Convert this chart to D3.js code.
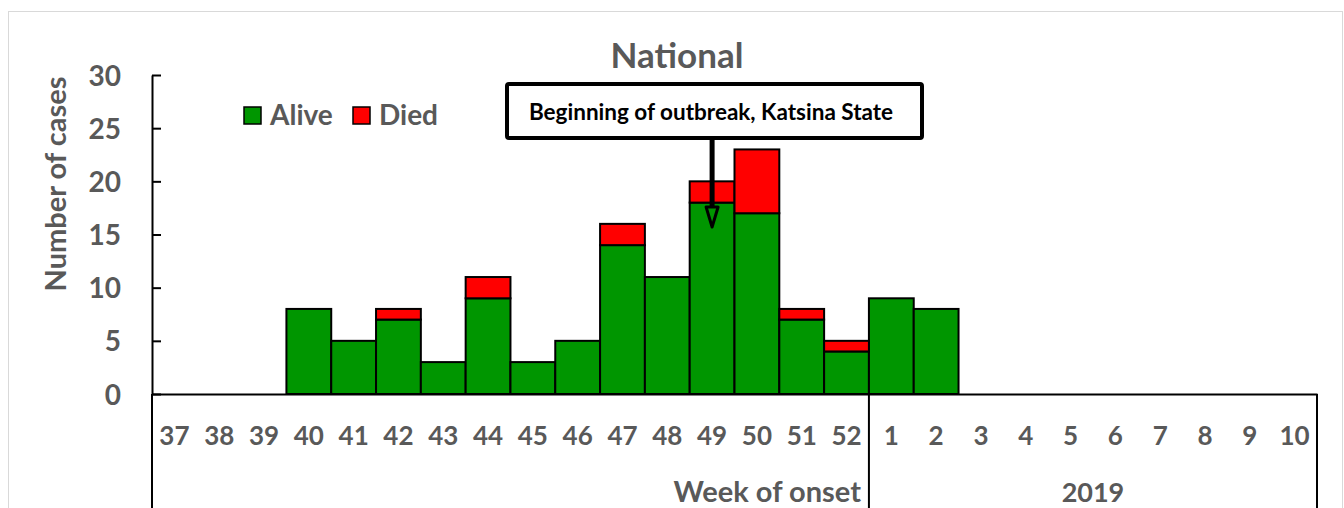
<!DOCTYPE html>
<html><head><meta charset="utf-8">
<script src="https://cdn.jsdelivr.net/npm/d3@7"></script>
<style>body{margin:0;background:#fff}svg{display:block}text{font-family:Lato,"Open Sans",sans-serif;font-weight:bold}</style>
</head><body>
<svg id="c" width="1344" height="508"></svg>
<script>
const weeks = ["37","38","39","40","41","42","43","44","45","46","47","48","49","50","51","52","1","2","3","4","5","6","7","8","9","10"];
const alive = [0,0,0,8,5,7,3,9,3,5,14,11,18,17,7,4,9,8,0,0,0,0,0,0,0,0];
const died  = [0,0,0,0,0,1,0,2,0,0,2,0,2,6,1,1,0,0,0,0,0,0,0,0,0,0];
const yTicks = [0,5,10,15,20,25,30];
const seriesNames = ["Alive","Died"];
const colors = ["#009600","#ff0000"];
const title = "National";
const annotation = "Beginning of outbreak, Katsina State";
const annotWeek = "49";

const svg = d3.select("#c");
const grey = "#595959";
svg.append("rect").attr("x",8.5).attr("y",11.5).attr("width",1334).attr("height",510)
  .attr("fill","#fff").attr("stroke","#d9d9d9").attr("stroke-width",1);

const x = d3.scaleBand().domain(weeks).range([152,1317]).padding(0);
const y = d3.scaleLinear().domain([0,30]).range([394,75]);

const data = weeks.map((w,i)=>({week:w, Alive:alive[i], Died:died[i]}));
const stack = d3.stack().keys(seriesNames)(data);

svg.append("g").selectAll("g").data(stack).join("g")
  .attr("fill",(d,i)=>colors[i])
  .selectAll("rect").data(d=>d.filter(p=>p[1]-p[0]>0)).join("rect")
  .attr("x",d=>x(d.data.week)).attr("width",x.bandwidth())
  .attr("y",d=>y(d[1])).attr("height",d=>y(d[0])-y(d[1]))
  .attr("stroke","#000").attr("stroke-width",2);

// y axis
const yAxis = d3.axisLeft(y).tickValues(yTicks).tickSizeInner(-9).tickSizeOuter(0).tickPadding(31);
const gy = svg.append("g").attr("transform","translate(152,0)").call(yAxis);
gy.select(".domain").attr("stroke","#000").attr("stroke-width",2);
gy.selectAll(".tick line").attr("stroke","#000").attr("stroke-width",2);
gy.selectAll(".tick text").attr("fill",grey).style("font-size","28px").style("font-family","Lato,sans-serif").style("font-weight","bold").attr("dy","0.36em");

// x axis
const xAxis = d3.axisBottom(x).tickSize(0).tickPadding(33);
const gx = svg.append("g").attr("transform","translate(0,394)").call(xAxis);
gx.select(".domain").attr("stroke","#000").attr("stroke-width",2);
gx.selectAll(".tick text").attr("fill",grey).style("font-size","26px").style("font-family","Lato,sans-serif").style("font-weight","bold");

// grouping lines
const xDiv = x("1");
const xEnd = x("10")+x.bandwidth();
svg.append("line").attr("x1",152).attr("x2",152).attr("y1",394).attr("y2",508).attr("stroke","#000").attr("stroke-width",2);
svg.append("line").attr("x1",xDiv).attr("x2",xDiv).attr("y1",394).attr("y2",508).attr("stroke","#000").attr("stroke-width",2);
svg.append("line").attr("x1",xEnd).attr("x2",xEnd).attr("y1",394).attr("y2",508).attr("stroke","#000").attr("stroke-width",2);

svg.append("text").attr("x",xDiv-8).attr("y",502).attr("text-anchor","end").attr("fill",grey).style("font-size","29px").text("Week of onset");
svg.append("text").attr("x",(xDiv+xEnd)/2).attr("y",502).attr("text-anchor","middle").attr("fill",grey).style("font-size","27px").text("2019");

// y title
svg.append("text").attr("transform","translate(66,184) rotate(-90)").attr("text-anchor","middle").attr("fill",grey).style("font-size","29px").text("Number of cases");

// title
svg.append("text").attr("x",677).attr("y",68).attr("text-anchor","middle").attr("fill",grey).style("font-size","35px").text(title);

// legend
const lg = svg.append("g");
const legX = [244,353];
seriesNames.forEach((n,i)=>{
  lg.append("rect").attr("x",legX[i]).attr("y",107).attr("width",17).attr("height",17).attr("fill",colors[i]).attr("stroke","#000").attr("stroke-width",1.5);
  lg.append("text").attr("x",legX[i]+26).attr("y",125).attr("fill",grey).style("font-size","28px").text(n);
});

// annotation
const ax = x(annotWeek)+x.bandwidth()/2;
svg.append("rect").attr("x",507).attr("y",84).attr("width",415).attr("height",54).attr("rx",2)
  .attr("fill","#fff").attr("stroke","#000").attr("stroke-width",4);
svg.append("text").attr("x",711).attr("y",120).attr("text-anchor","middle").attr("fill","#000").style("font-size","22.5px").text(annotation);
svg.append("line").attr("x1",ax).attr("x2",ax).attr("y1",138).attr("y2",210).attr("stroke","#000").attr("stroke-width",5);
svg.append("path").attr("d",`M${ax-6},${207}L${ax+6},${207}L${ax},${227}Z`).attr("fill","#009600").attr("stroke","#000").attr("stroke-width",3).attr("stroke-linejoin","round");
</script>
</body></html>
